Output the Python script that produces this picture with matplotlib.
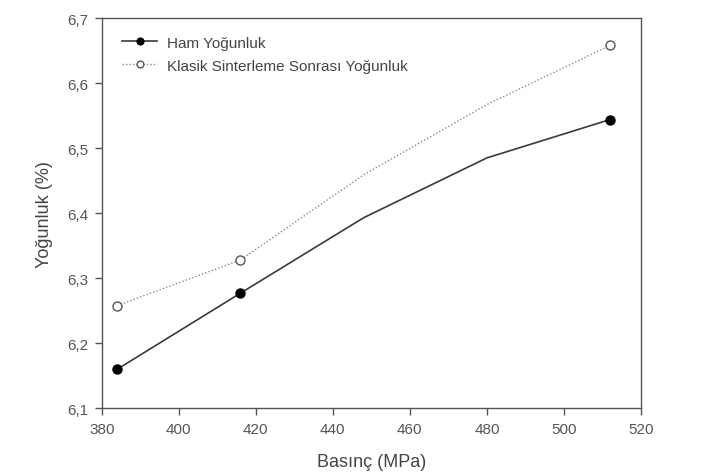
import numpy as np
import matplotlib
matplotlib.use('Agg')
import matplotlib.pyplot as plt
from matplotlib.ticker import FuncFormatter

plt.rcParams['font.family'] = ['Liberation Sans', 'DejaVu Sans']

basinc = [384, 416, 448, 480, 512]
ham = [6.160, 6.277, 6.393, 6.485, 6.544]
klasik = [6.258, 6.328, 6.459, 6.567, 6.658]
isaretli = [0, 1, 4]   # only these points carry a marker

fig = plt.figure(figsize=(7.02, 4.77), dpi=100)
ax = fig.add_axes([0.145, 0.142, 0.768, 0.818])

ax.plot(basinc, ham, color='#3a3a3a', lw=1.2, marker='o', ms=6.5,
        mfc='black', mec='black', markevery=isaretli, label='Ham Yoğunluk')
ax.plot(basinc, klasik, color='#8a8a8a', lw=1.0, ls=(0, (1, 1.5)), marker='o',
        ms=6.5, mfc='white', mec='#555555', mew=1.0, markevery=isaretli,
        label='Klasik Sinterleme Sonrası Yoğunluk')

ax.set_xlim(380, 520)
ax.set_ylim(6.1, 6.7)
ax.set_xticks(np.arange(380, 521, 20))
ax.set_yticks(np.arange(6.1, 6.71, 0.1))
ax.yaxis.set_major_formatter(FuncFormatter(lambda v, p: ('%.1f' % v).replace('.', ',')))

for s in ax.spines.values():
    s.set_color('#555555')
    s.set_linewidth(1.0)
ax.tick_params(direction='out', length=5, width=1, color='#555555',
               labelcolor='#555555', labelsize=11, pad=5)

ax.set_xlabel('Basınç (MPa)', fontsize=13, color='#444444', labelpad=12)
ax.set_ylabel('Yoğunluk (%)', fontsize=13, color='#444444', labelpad=10)

leg = ax.legend(loc='upper left', bbox_to_anchor=(0.037, 0.955), frameon=False,
                fontsize=11, handlelength=2.33, borderpad=0, borderaxespad=0,
                labelspacing=0.6, handletextpad=0.6, markerscale=0.75)
for t in leg.get_texts():
    t.set_color('#444444')

fig.savefig('out.png', dpi=100)
